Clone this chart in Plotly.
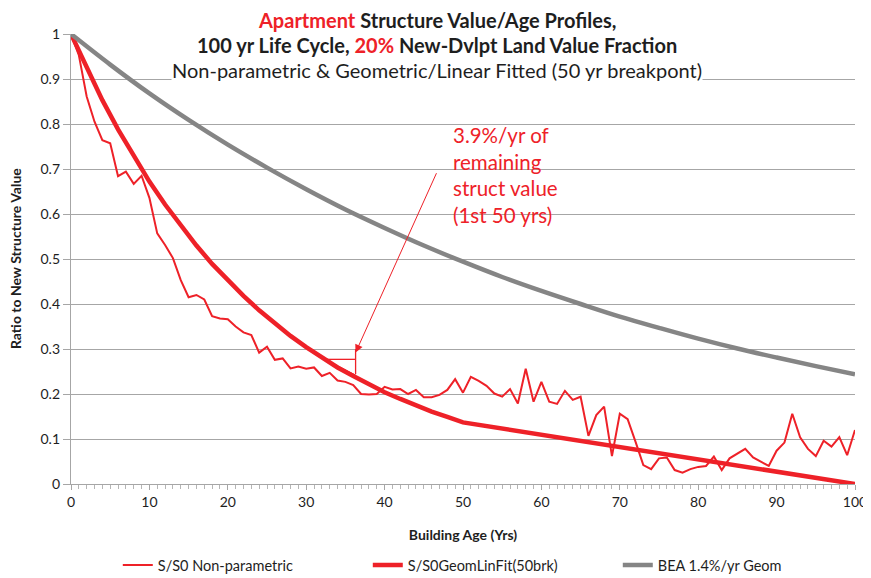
import plotly.graph_objects as go

# building age, years
age = list(range(0, 101))

# S/S0 non-parametric
s_nonpar = [1.0, 0.953, 0.861, 0.805, 0.764, 0.757, 0.684, 0.694, 0.667, 0.685,
            0.636, 0.557, 0.531, 0.502, 0.453, 0.415, 0.420, 0.410, 0.373, 0.368,
            0.366, 0.350, 0.337, 0.331, 0.292, 0.305, 0.276, 0.279, 0.257, 0.261,
            0.256, 0.259, 0.240, 0.247, 0.230, 0.227, 0.220, 0.200, 0.199, 0.200,
            0.216, 0.210, 0.211, 0.200, 0.209, 0.193, 0.193, 0.198, 0.209, 0.233,
            0.203, 0.238, 0.229, 0.218, 0.201, 0.194, 0.211, 0.179, 0.256, 0.183,
            0.227, 0.183, 0.178, 0.207, 0.187, 0.194, 0.107, 0.153, 0.172, 0.062,
            0.156, 0.144, 0.094, 0.042, 0.033, 0.057, 0.059, 0.031, 0.025, 0.033,
            0.038, 0.040, 0.061, 0.031, 0.057, 0.067, 0.078, 0.059, 0.050, 0.040,
            0.074, 0.092, 0.156, 0.104, 0.078, 0.062, 0.096, 0.083, 0.104, 0.064,
            0.120]

# geometric / linear fit (50 yr breakpoint)
fit_age = [0, 2, 4, 6, 8, 10, 12, 14, 16, 18, 20, 22, 24, 26, 28, 30, 32, 34,
           36, 38, 40, 42, 44, 46, 48, 50, 100]
fit_val = [1.0, 0.924, 0.853, 0.788, 0.728, 0.672, 0.621, 0.574, 0.530, 0.489,
           0.452, 0.418, 0.386, 0.356, 0.329, 0.304, 0.281, 0.259, 0.240, 0.221,
           0.204, 0.189, 0.174, 0.161, 0.149, 0.137, 0.0]

# BEA 1.4%/yr geometric
bea_age = [0, 5, 10, 15, 20, 25, 30, 35, 40, 45, 50, 55, 60, 65, 70, 75, 80,
           85, 90, 95, 100]
bea_val = [1.0, 0.932, 0.868, 0.809, 0.754, 0.703, 0.655, 0.610, 0.569, 0.530,
           0.494, 0.460, 0.429, 0.400, 0.372, 0.347, 0.323, 0.301, 0.281, 0.262,
           0.244]

RED = "#ee2128"
GRAY = "#858585"
TXT = "#1e1e1e"
FONT = "Lato"

fig = go.Figure()
fig.add_trace(go.Scatter(x=age, y=s_nonpar, mode="lines", name="S/S0 Non-parametric",
                         line=dict(color=RED, width=2), cliponaxis=False))
fig.add_trace(go.Scatter(x=fit_age, y=fit_val, mode="lines", name="S/S0GeomLinFit(50brk)",
                         line=dict(color=RED, width=4.5), cliponaxis=False))
fig.add_trace(go.Scatter(x=bea_age, y=bea_val, mode="lines", name="BEA 1.4%/yr Geom",
                         line=dict(color=GRAY, width=4.5, shape="spline"), cliponaxis=False))

# slope triangle
fig.add_shape(type="line", x0=32.4, y0=0.277, x1=36.3, y1=0.277,
              line=dict(color=RED, width=1.3))
fig.add_shape(type="line", x0=36.3, y0=0.30, x1=36.3, y1=0.244,
              line=dict(color=RED, width=1.3))
fig.add_shape(type="line", x0=32.4, y0=0.277, x1=36.3, y1=0.242,
              line=dict(color=RED, width=1))

# arrow
fig.add_annotation(x=36.3, y=0.292, ax=46.7, ay=0.694, xref="x", yref="y",
                   axref="x", ayref="y", text="", showarrow=True,
                   arrowhead=2, arrowsize=1.6, arrowwidth=1, arrowcolor=RED)

note = ["3.9%/yr of", "remaining", "struct value", "(1st 50 yrs)"]
note_y = [0.7756, 0.7156, 0.658, 0.598]
for t, yy in zip(note, note_y):
    fig.add_annotation(x=48.5, y=yy, xref="x", yref="y", text=t, showarrow=False,
                       xanchor="left", yanchor="middle",
                       font=dict(family=FONT, size=20.5, color=RED))

titles = [
    "<b><span style='color:%s'>Apartment</span> Structure Value/Age Profiles,</b>" % RED,
    "<b>100 yr Life Cycle, <span style='color:%s'>20%%</span> New-Dvlpt Land Value Fraction</b>" % RED,
    "Non-parametric & Geometric/Linear Fitted (50 yr breakpont)",
]
title_y = [1.031, 0.9756, 0.92]
for t, yy in zip(titles, title_y):
    fig.add_annotation(x=0.467, y=yy, xref="paper", yref="paper", text=t,
                       showarrow=False, xanchor="center", yanchor="middle",
                       bgcolor="white", borderpad=0,
                       font=dict(family=FONT, size=20, color=TXT))

# y axis title as a rotated annotation
fig.add_annotation(x=-0.0714, y=0.5, xref="paper", yref="paper",
                   text="<b>Ratio to New Structure Value</b>", textangle=-90,
                   showarrow=False, xanchor="center", yanchor="middle",
                   font=dict(family=FONT, size=14, color=TXT))

fig.update_xaxes(range=[0, 100], tickvals=list(range(0, 101, 10)),
                 showgrid=False, zeroline=False, automargin=False,
                 showline=True, linecolor="#a6a6a6", linewidth=1.3,
                 ticks="outside", ticklen=5, tickcolor="#a6a6a6",
                 minor=dict(dtick=1, ticks="outside", ticklen=4, tickcolor="#b5b5b5"),
                 tickfont=dict(family=FONT, size=14, color=TXT),
                 title=dict(text="<b>Building Age (Yrs)</b>", standoff=21,
                            font=dict(family=FONT, size=14, color=TXT)))
fig.update_yaxes(range=[0, 1], tickvals=[i / 10 for i in range(11)],
                 ticktext=["0", "0.1", "0.2", "0.3", "0.4", "0.5", "0.6", "0.7", "0.8", "0.9", "1"],
                 showgrid=True, gridcolor="#a6a6a6", gridwidth=1, zeroline=False,
                 automargin=False,
                 showline=True, linecolor="#a6a6a6", linewidth=1.3,
                 ticks="outside", ticklen=7, tickcolor="#a6a6a6",
                 tickfont=dict(family=FONT, size=14, color=TXT))

# page body has an 8px margin, so size the figure to fit the window
fig.update_layout(
    width=863, height=570,
    margin=dict(l=63, r=16, t=26, b=94, autoexpand=False),
    plot_bgcolor="white", paper_bgcolor="white",
    font=dict(family=FONT, color=TXT),
    legend=dict(orientation="h", x=0.538, xanchor="center", y=-0.18, yanchor="middle",
                font=dict(family=FONT, size=14.5, color=TXT), itemwidth=30,
                entrywidth=205),
)

fig.write_html("out.html")
